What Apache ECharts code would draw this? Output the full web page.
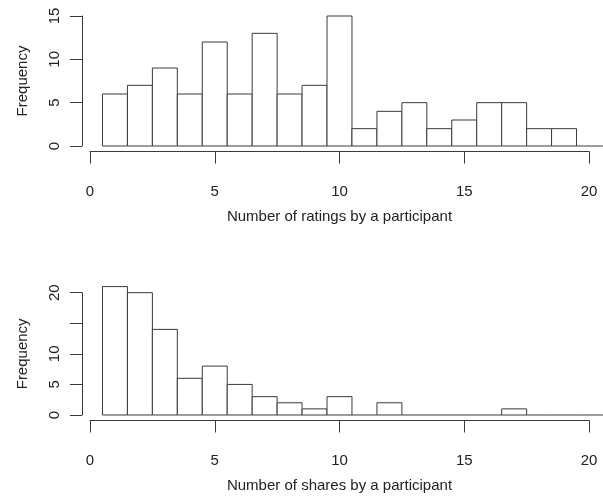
<!DOCTYPE html>
<html>
<head>
<meta charset="utf-8">
<script src="https://cdn.jsdelivr.net/npm/echarts@6/dist/echarts.min.js"></script>
<style>
html,body{margin:0;padding:0;background:#fff;}
#chart{width:603px;height:497px;}
</style>
</head>
<body>
<div id="chart"></div>
<script>
// Data
const bins = [1,2,3,4,5,6,7,8,9,10,11,12,13,14,15,16,17,18,19,20,21];
const ratingsCounts = [6,7,9,6,12,6,13,6,7,15,2,4,5,2,3,5,5,2,2,0,0];
const sharesCounts  = [21,20,14,6,8,5,3,2,1,3,0,2,0,0,0,0,1,0,0,0,0];
const xTicks = [0,5,10,15,20];
const ratingsYTicks = [0,5,10,15];
const sharesYTicks = [0,5,10,15,20];
const sharesYLabelHidden = [15];
const ratingsTitle = 'Number of ratings by a participant';
const sharesTitle = 'Number of shares by a participant';
const yTitle = 'Frequency';

const FONT = 'Liberation Sans, Arial, sans-serif';
const TXT = '#222';
const LINE = '#3a3a3a';

function renderItem(params, api){
  const x = api.value(0), c = api.value(1);
  const p0 = api.coord([x-0.5, 0]);
  const p1 = api.coord([x+0.5, c]);
  if (c === 0) {
    return {type:'line', shape:{x1:p0[0], y1:p0[1], x2:p1[0], y2:p0[1]},
      style:{stroke:LINE, lineWidth:1}};
  }
  return {type:'rect',
    shape:{x:p0[0], y:p1[1], width:p1[0]-p0[0], height:p0[1]-p1[1]},
    style:{fill:'#fff', stroke:LINE, lineWidth:1}};
}

function yAxisCfg(gridIndex, ticks, hidden){
  return {
    type:'value', gridIndex, min:ticks[0], max:ticks[ticks.length-1], interval:5,
    position:'left',
    axisLine:{show:true, lineStyle:{color:LINE, width:1}},
    axisTick:{show:true, length:12, lineStyle:{color:LINE, width:1}},
    splitLine:{show:false},
    axisLabel:{rotate:90, margin:20, fontSize:15, fontFamily:FONT, color:TXT,
      formatter: v => hidden.includes(v) ? '' : String(v)},
    name:yTitle, nameLocation:'middle', nameGap:52,
    nameTextStyle:{fontSize:15, fontFamily:FONT, color:TXT}
  };
}
function xAxisCfg(gridIndex, title){
  return {
    type:'value', gridIndex, min:xTicks[0], max:xTicks[xTicks.length-1], interval:5,
    position:'bottom', offset:5.5,
    axisLine:{show:true, onZero:false, lineStyle:{color:LINE, width:1}},
    axisTick:{show:true, length:12, lineStyle:{color:LINE, width:1}},
    splitLine:{show:false},
    axisLabel:{margin:33, fontSize:15, fontFamily:FONT, color:TXT},
    name:title, nameLocation:'middle', nameGap:58,
    nameTextStyle:{fontSize:15, fontFamily:FONT, color:TXT}
  };
}
function hiddenX(gridIndex){ return {type:'value', gridIndex, show:false, min:0, max:1}; }
function hiddenY(gridIndex, ticks){ return {type:'value', gridIndex, show:false, min:ticks[0], max:ticks[ticks.length-1]}; }

const chart = echarts.init(document.getElementById('chart'), null, {renderer:'canvas'});
chart.setOption({
  animation:false,
  backgroundColor:'#fff',
  grid:[
    {left:82, top:16, width:1, height:130},      // top y axis
    {left:90, top:16, width:499, height:130},     // top x axis + bars
    {left:82, top:292.7, width:1, height:122.3},  // bottom y axis
    {left:90, top:292.7, width:499, height:122.3} // bottom x axis + bars
  ],
  xAxis:[hiddenX(0), xAxisCfg(1, ratingsTitle), hiddenX(2), xAxisCfg(3, sharesTitle)],
  yAxis:[yAxisCfg(0, ratingsYTicks, []), hiddenY(1, ratingsYTicks),
         yAxisCfg(2, sharesYTicks, sharesYLabelHidden), hiddenY(3, sharesYTicks)],
  series:[
    {type:'custom', xAxisIndex:1, yAxisIndex:1, clip:false, renderItem,
      data: bins.map((b,i)=>[b, ratingsCounts[i]])},
    {type:'custom', xAxisIndex:3, yAxisIndex:3, clip:false, renderItem,
      data: bins.map((b,i)=>[b, sharesCounts[i]])}
  ]
});
</script>
</body>
</html>
